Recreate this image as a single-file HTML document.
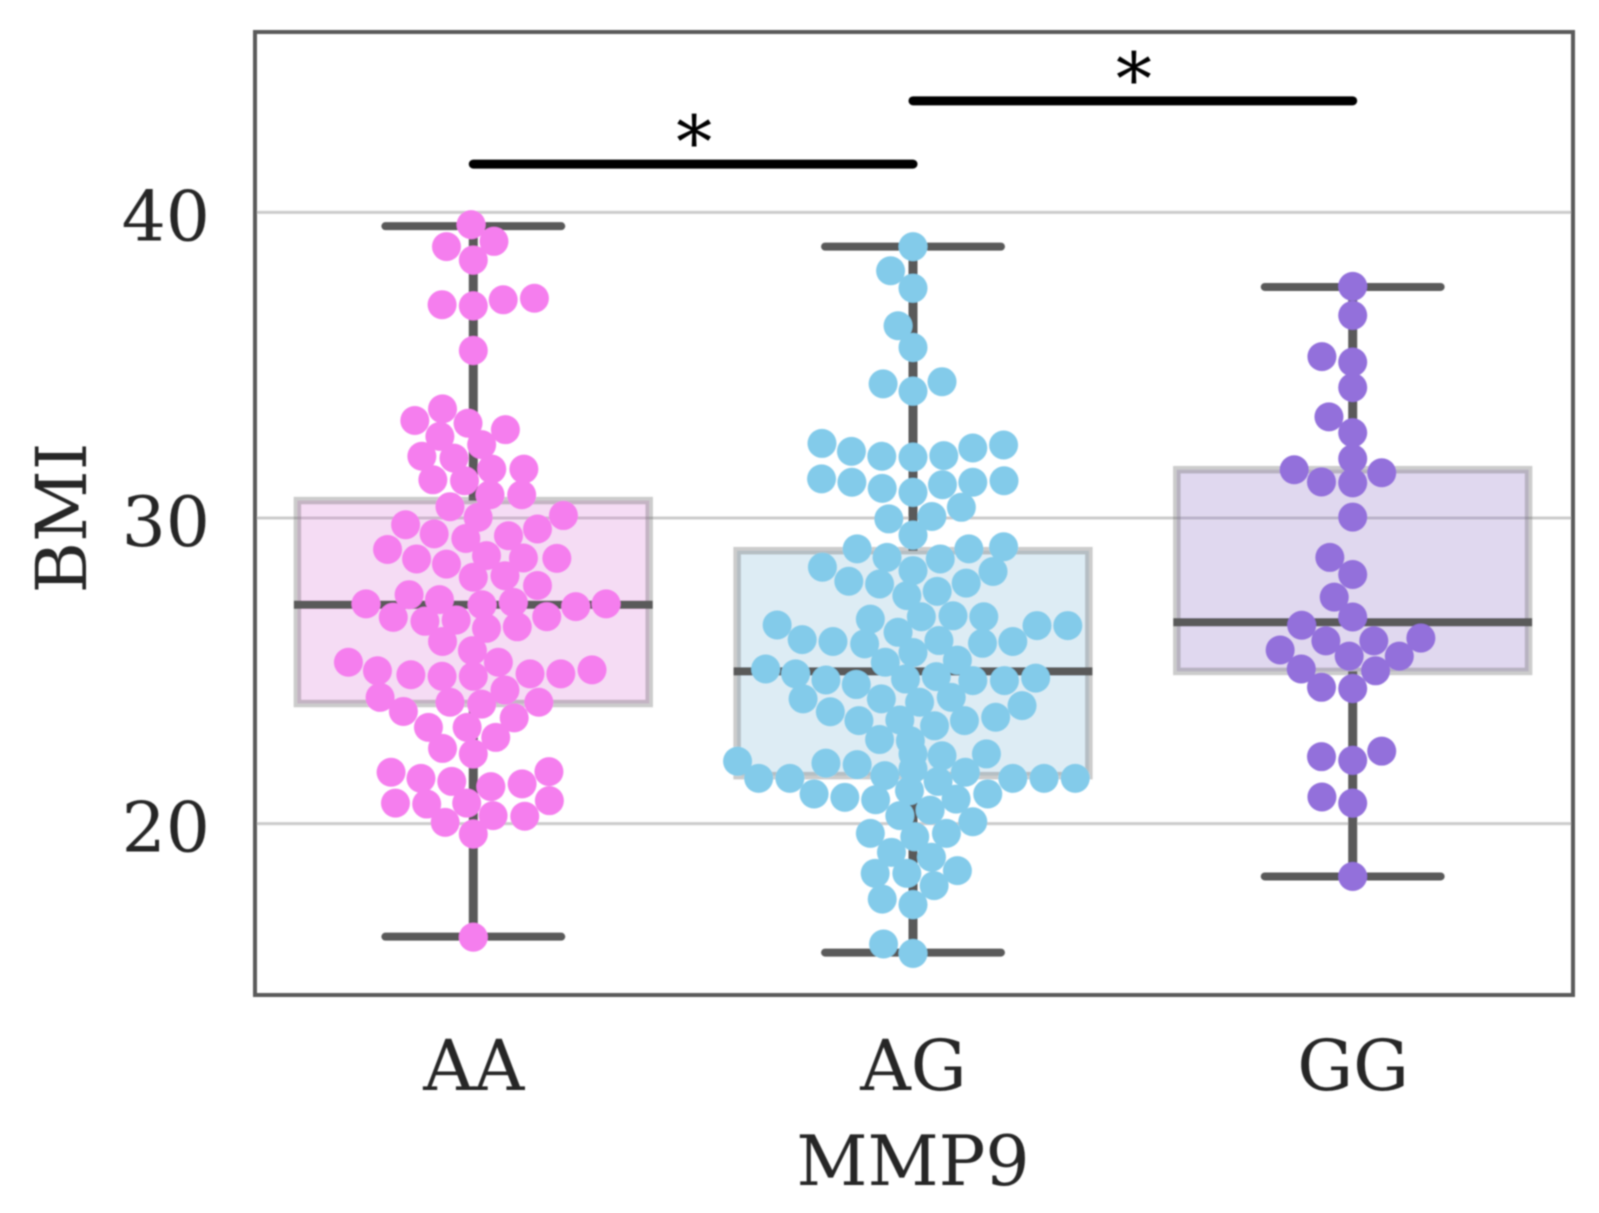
<!DOCTYPE html>
<html lang="en">
<head>
<meta charset="utf-8">
<title>BMI by MMP9 genotype</title>
<style>
html,body{margin:0;padding:0;background:#fff;}
#chart{display:block;width:1599px;height:1213px;}
text{font-family:"DejaVu Serif","Liberation Serif",serif;fill:#262626;}
</style>
</head>
<body>
<svg id="chart" xmlns="http://www.w3.org/2000/svg" width="1599" height="1213" viewBox="0 0 1599 1213">
<defs><filter id="soft" x="-2%" y="-2%" width="104%" height="104%"><feGaussianBlur stdDeviation="0.9"/></filter></defs>
<g id="root" filter="url(#soft)"></g>
</svg>
<script>
const categories = ['AA', 'AG', 'GG'];
const yTickValues = [20, 30, 40];
const yTickLabels = ['20', '30', '40'];
const xAxisTitle = 'MMP9';
const yAxisTitle = 'BMI';

const q1Values = [23.93, 21.57, 24.98];
const medianValues = [27.16, 24.98, 26.59];
const q3Values = [30.57, 28.93, 31.58];
const whiskerLowValues = [16.30, 15.78, 18.27];
const whiskerHighValues = [39.55, 38.88, 37.56];

const aaValues = [39.60,38.88,39.05,38.44,36.98,36.94,37.14,37.19,35.48,33.19,33.57,33.10,32.89,32.67,32.40,32.02,31.96,31.60,31.60,31.25,31.22,30.76,30.76,30.37,30.02,30.08,29.78,29.48,29.33,29.64,29.42,28.97,28.66,28.49,28.77,28.69,28.68,28.06,28.11,27.79,27.49,27.19,27.33,27.16,27.24,27.10,27.19,26.75,26.62,26.66,26.39,26.44,26.77,25.96,25.66,25.28,25.00,24.87,24.82,24.82,25.28,24.90,24.90,25.03,24.37,24.13,23.97,23.91,23.97,23.67,23.46,23.15,23.15,22.82,22.46,22.28,21.68,21.48,21.38,21.70,21.21,21.30,20.67,20.64,20.67,20.75,20.04,20.26,20.24,19.66,16.28];
const aaOffsets = [-0.005,-0.061,0.047,0,-0.071,0,0.068,0.139,0,-0.133,-0.070,-0.012,0.073,-0.076,0.019,-0.117,-0.044,0.042,0.115,-0.092,-0.020,0.038,0.110,-0.053,0.011,0.205,-0.154,-0.089,-0.017,0.146,0.080,-0.195,-0.129,-0.061,0.030,0.114,0.190,0,0.072,0.146,-0.146,-0.244,-0.077,0.020,0.091,0.233,0.302,-0.182,-0.110,-0.039,0.030,0.100,0.167,-0.070,-0.002,-0.284,-0.218,-0.142,-0.071,0,0.057,0.129,0.199,0.270,0.072,-0.212,-0.053,0.019,0.149,-0.159,0.093,-0.102,-0.014,0.051,-0.070,0,-0.187,-0.119,-0.049,0.172,0.040,0.111,-0.177,-0.106,-0.015,0.173,-0.064,0.045,0.117,0,0];

const agValues = [38.88,38.09,37.52,36.29,35.58,34.39,34.15,34.46,32.44,32.18,32.02,31.99,32.04,32.29,32.39,31.28,31.17,30.97,30.84,31.09,31.17,31.22,30.35,30.05,29.97,29.44,28.99,28.71,28.66,28.99,29.06,28.39,28.28,28.25,27.93,27.84,27.87,27.46,27.60,26.50,26.69,26.77,26.80,26.77,26.48,26.48,26.02,25.96,25.88,26.26,25.99,25.90,25.96,25.60,25.28,25.35,25.06,24.90,24.70,24.55,24.73,24.81,24.68,24.68,24.76,24.08,24.08,23.97,24.13,23.86,23.66,23.37,23.39,23.20,23.37,23.48,22.75,22.71,22.22,22.28,22.04,21.98,21.93,21.79,21.57,21.68,21.48,21.48,21.48,21.48,21.48,21.38,21.08,20.97,20.86,20.78,20.80,20.97,20.26,20.44,20.06,19.68,19.57,19.68,19.06,18.90,18.37,18.37,18.46,17.97,17.53,17.35,16.06,15.75,22.28];
const agOffsets = [0,-0.051,0,-0.034,0,-0.068,0,0.066,-0.207,-0.140,-0.071,0,0.070,0.136,0.206,-0.208,-0.139,-0.070,0,0.067,0.136,0.207,0.110,0.043,-0.055,0,-0.127,-0.059,0.062,0.127,0.206,-0.206,0,0.182,-0.146,-0.076,0.121,-0.014,0.055,-0.309,-0.097,0.019,0.091,0.161,0.282,0.352,-0.252,-0.182,-0.110,-0.034,0.059,0.158,0.227,0,-0.063,0.101,-0.335,-0.267,-0.198,-0.129,-0.017,0.053,0.136,0.208,0.279,-0.250,-0.072,0.015,0.087,0.248,-0.188,-0.123,-0.030,0.049,0.117,0.188,-0.076,-0.006,0.066,0.167,-0.399,-0.198,-0.127,0,-0.064,0.119,-0.351,-0.280,0.227,0.298,0.369,0.057,-0.008,-0.225,-0.155,-0.085,0.098,0.170,-0.030,0.039,0.136,-0.097,0.004,0.076,-0.049,0.042,-0.086,-0.014,0.101,0.048,-0.070,0,-0.067,0,0];

const ggValues = [37.58,36.63,35.28,35.10,34.27,33.31,32.79,31.94,31.58,31.48,31.18,31.15,30.03,28.71,28.15,27.41,26.76,26.49,26.07,25.98,25.98,25.68,25.48,25.48,25.06,25.00,24.46,24.42,22.19,22.07,22.37,20.87,20.67,18.27];
const ggOffsets = [0,0,-0.070,0,0,-0.054,0,0,-0.133,0.066,-0.071,0,0,-0.052,0,-0.042,0,-0.116,0.155,-0.061,0.048,-0.165,-0.008,0.106,-0.117,0.052,-0.071,0,-0.071,0,0.066,-0.070,0,0];

const sigFrom = [0, 1];
const sigTo = [1, 2];
const sigLevel = [41.58, 43.65];
const sigLabels = ['*', '*'];

const NS = 'http://www.w3.org/2000/svg';
const root = document.getElementById('root');
const plotLeft = 255, plotRight = 1573, plotTop = 32, plotBottom = 995;
function xScale(position) { return 473.3 + 439.7 * position; }
function yScale(value) { return 518 - (value - 30) * 30.56; }
function make(tag, attrs, parent) {
  const el = document.createElementNS(NS, tag);
  for (const k in attrs) el.setAttribute(k, attrs[k]);
  (parent || root).appendChild(el);
  return el;
}

const dotColors = ['#f57eee', '#83cbea', '#9370db'];
const boxFills = ['rgba(215,115,211,0.25)', 'rgba(119,179,211,0.25)', 'rgba(131,99,191,0.25)'];
const darkLine = '#5a5a5a';
const seriesValues = [aaValues, agValues, ggValues];
const seriesOffsets = [aaOffsets, agOffsets, ggOffsets];

yTickValues.forEach(function (v, i) {
  const grid = make('line', { x1: plotLeft, x2: plotRight, y1: yScale(v), y2: yScale(v), stroke: '#cccccc', 'stroke-width': 3 });
  
  
  const label = make('text', { x: 210, y: yScale(v) + 28, 'text-anchor': 'end', 'font-size': 69.5 });
  
  
  label.textContent = yTickLabels[i];
});

categories.forEach(function (cat, i) {
  const cx = xScale(i);
  const key = cat.toLowerCase();
  const group = make('g', {});
  
  

  const stemTop = make('line', { x1: cx, x2: cx, y1: yScale(whiskerHighValues[i]), y2: yScale(q3Values[i]), stroke: darkLine, 'stroke-width': 9 }, group);
  
  
  const stemLow = make('line', { x1: cx, x2: cx, y1: yScale(q1Values[i]), y2: yScale(whiskerLowValues[i]), stroke: darkLine, 'stroke-width': 9 }, group);
  
  

  [whiskerHighValues[i], whiskerLowValues[i]].forEach(function (v, j) {
    const cap = make('line', { x1: xScale(i - 0.2), x2: xScale(i + 0.2), y1: yScale(v), y2: yScale(v), stroke: darkLine, 'stroke-width': 8, 'stroke-linecap': 'round' }, group);
    
    
  });

  const box = make('rect', {
    x: xScale(i - 0.4), width: xScale(i + 0.4) - xScale(i - 0.4),
    y: yScale(q3Values[i]), height: yScale(q1Values[i]) - yScale(q3Values[i]),
    fill: boxFills[i], stroke: 'rgba(110,110,110,0.36)', 'stroke-width': 7.5
  }, group);
  
  

  const median = make('line', { x1: xScale(i - 0.4) - 3.5, x2: xScale(i + 0.4) + 3.5, y1: yScale(medianValues[i]), y2: yScale(medianValues[i]), stroke: darkLine, 'stroke-width': 8 }, group);
  
  
});

categories.forEach(function (cat, i) {
  const key = cat.toLowerCase();
  const swarm = make('g', {});
  
  
  seriesValues[i].forEach(function (v, j) {
    const dot = make('circle', { cx: xScale(i + seriesOffsets[i][j]), cy: yScale(v), r: 14.5, fill: dotColors[i] }, swarm);
    
    
  });
});

sigLevel.forEach(function (level, i) {
  const bar = make('line', { x1: xScale(sigFrom[i]), x2: xScale(sigTo[i]), y1: yScale(level), y2: yScale(level), stroke: '#000', 'stroke-width': 9, 'stroke-linecap': 'round' });
  
  
  const star = make('text', { x: (xScale(sigFrom[i]) + xScale(sigTo[i])) / 2 + 1, y: yScale(level) + 3, 'text-anchor': 'middle', 'font-size': 72 });
  star.style.fill = '#000';
  
  
  star.textContent = sigLabels[i];
});

const frame = make('rect', { x: plotLeft, y: plotTop, width: plotRight - plotLeft, height: plotBottom - plotTop, fill: 'none', stroke: '#5a5a5a', 'stroke-width': 4 });



categories.forEach(function (cat, i) {
  const tick = make('text', { x: xScale(i) + 0.5, y: 1090, 'text-anchor': 'middle', 'font-size': 70 });
  
  
  tick.textContent = cat;
});

const xTitle = make('text', { x: 913, y: 1185, 'text-anchor': 'middle', 'font-size': 69.5 });


xTitle.textContent = xAxisTitle;

const yTitle = make('text', { x: 0, y: 0, 'text-anchor': 'middle', 'font-size': 70, transform: 'translate(86 518) rotate(-90)' });


yTitle.textContent = yAxisTitle;
</script>
</body>
</html>
